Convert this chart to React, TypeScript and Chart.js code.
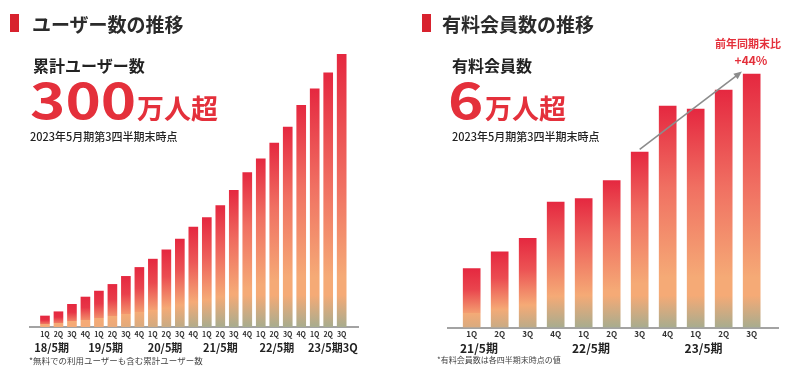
import React, { useEffect, useRef } from 'react';
import { Chart, registerables } from 'chart.js';
Chart.register(...registerables);

// ---- data ----
const userQuarters = ['1Q','2Q','3Q','4Q','1Q','2Q','3Q','4Q','1Q','2Q','3Q','4Q','1Q','2Q','3Q','4Q','1Q','2Q','3Q','4Q','1Q','2Q','3Q'];
const userValues = [12.2,16.9,25.1,33.2,39.8,47.2,56.1,66.0,75.2,85.5,97.3,110.6,121.3,134.6,151.5,171.1,186.2,203.9,221.6,245.6,264.0,281.7,302];
const userYearLabels = ['18/5期','19/5期','20/5期','21/5期','22/5期','23/5期3Q'];
const userYearPositions = [0.5,4.5,8.9,13.0,17.2,21.35];

const memberQuarters = ['1Q','2Q','3Q','4Q','1Q','2Q','3Q','4Q','1Q','2Q','3Q'];
const memberValues = [1.40,1.80,2.12,2.98,3.06,3.49,4.17,5.26,5.19,5.64,6.02];
const memberYearLabels = ['21/5期','22/5期','23/5期'];
const memberYearPositions = [0.26,4.26,8.28];
const arrowFrom = [6, 4.23];
const arrowTo = [9.65, 6.08];

const FONT = '"Noto Sans CJK JP", "Noto Sans", sans-serif';
const RED = '#e4303b';

function mix(a: number[], b: number[], t: number) {
  const c = a.map((v, i) => Math.round(v + (b[i] - v) * t));
  return `rgb(${c[0]},${c[1]},${c[2]})`;
}

function barGradient(ctx: any) {
  const chart = ctx.chart;
  const area = chart.chartArea;
  if (!area || ctx.type !== 'data') return '#e52a41';
  const ys = chart.scales.y;
  const raw = ctx.raw;
  const v = raw && typeof raw === 'object' ? raw.y : raw;
  const top = ys.getPixelForValue(v);
  const base = ys.getPixelForValue(0);
  const h = base - top;
  if (!(h > 1)) return '#e52a41';
  const g = chart.ctx.createLinearGradient(0, top, 0, base);
  const red = [229, 40, 64];
  const salmon = [240, 112, 98];
  const orange = [245, 170, 118];
  const green = [168, 172, 142];
  const cl = (p: number) => Math.min(1, Math.max(0, p));
  const pSal = cl(Math.max(0.35, 1 - 140 / h));
  const pOr = cl(Math.max(0.75, 1 - 50 / h));
  const pOr2 = cl(Math.max(pOr, 1 - 32 / h));
  const greenAmt = Math.min(1, Math.max(0, (h - 30) / 80));
  g.addColorStop(0, mix(red, red, 0));
  g.addColorStop(pSal, mix(red, salmon, Math.min(1, h / 150)));
  g.addColorStop(pOr, mix(red, orange, Math.min(1, 0.6 + h / 200)));
  g.addColorStop(pOr2, mix(salmon, orange, 1));
  g.addColorStop(1, mix(orange, green, greenAmt));
  return g;
}

const arrowPlugin = {
  id: 'trendArrow',
  afterDatasetsDraw(chart: any) {
    if (!chart.options.plugins.trendArrow?.show) return;
    const { ctx, scales } = chart;
    const x0 = scales.x.getPixelForValue(arrowFrom[0]);
    const y0 = scales.y.getPixelForValue(arrowFrom[1]);
    const x1 = scales.x.getPixelForValue(arrowTo[0]);
    const y1 = scales.y.getPixelForValue(arrowTo[1]);
    const ang = Math.atan2(y1 - y0, x1 - x0);
    ctx.save();
    ctx.strokeStyle = '#8c8c8c';
    ctx.fillStyle = '#8c8c8c';
    ctx.lineWidth = 1.6;
    ctx.beginPath();
    ctx.moveTo(x0, y0);
    ctx.lineTo(x1 - 5 * Math.cos(ang), y1 - 5 * Math.sin(ang));
    ctx.stroke();
    const L = 8, W = 3.5;
    ctx.beginPath();
    ctx.moveTo(x1, y1);
    ctx.lineTo(x1 - L * Math.cos(ang) + W * Math.sin(ang), y1 - L * Math.sin(ang) - W * Math.cos(ang));
    ctx.lineTo(x1 - L * Math.cos(ang) - W * Math.sin(ang), y1 - L * Math.sin(ang) + W * Math.cos(ang));
    ctx.closePath();
    ctx.fill();
    ctx.restore();
  },
};

function makeConfig(p: any) {
  return {
    type: 'bar',
    data: {
      datasets: [{
        data: p.values.map((v: number, i: number) => ({ x: i, y: v })),
        backgroundColor: barGradient,
        borderWidth: 0,
        barThickness: p.barW,
      }],
    },
    plugins: [arrowPlugin],
    options: {
      animation: false,
      responsive: false,
      maintainAspectRatio: false,
      layout: { padding: p.padding },
      plugins: { legend: { display: false }, tooltip: { enabled: false }, trendArrow: { show: p.arrow } },
      scales: {
        x: {
          type: 'linear', position: 'bottom', min: p.xMin, max: p.xMax, offset: false, weight: 0,
          grid: { display: false, drawTicks: false },
          border: { display: true, color: '#a3a3a3', width: 2 },
          afterBuildTicks: (s: any) => { s.ticks = p.labels.map((_: string, i: number) => ({ value: i })); },
          ticks: {
            autoSkip: false, maxRotation: 0, padding: p.tickPad, color: '#333',
            font: { family: FONT, size: p.tickSize, weight: 'bold' },
            callback: (_v: any, i: number) => p.labels[i],
          },
        },
        x2: {
          type: 'linear', position: 'bottom', min: p.xMin, max: p.xMax, offset: false, weight: 1,
          grid: { display: false, drawTicks: false },
          border: { display: false },
          afterBuildTicks: (s: any) => { s.ticks = p.yearPos.map((v: number) => ({ value: v })); },
          ticks: {
            autoSkip: false, maxRotation: 0, padding: p.yearPad, color: '#222',
            font: { family: FONT, size: p.yearSize, weight: 'bold' },
            callback: (_v: any, i: number) => p.yearLabels[i],
          },
        },
        y: { display: false, min: 0, max: p.yMax },
      },
    },
  };
}

function BarChart({ cfg, left }: { cfg: any; left: number }) {
  const ref = useRef<HTMLCanvasElement>(null);
  useEffect(() => {
    const chart = new Chart(ref.current as HTMLCanvasElement, makeConfig(cfg) as any);
    return () => chart.destroy();
  }, []);
  return (
    <canvas ref={ref} width={400} height={369}
      style={{ position: 'absolute', left, top: 0, width: 400, height: 369 }} />
  );
}

function T({ x, y, size, color = '#222', weight = 700, children, center = false, style = {} }: any) {
  return (
    <div style={{
      position: 'absolute', left: x, top: y - size / 2, fontSize: size, lineHeight: `${size}px`,
      fontFamily: FONT, fontWeight: weight, color, whiteSpace: 'nowrap',
      transform: center ? 'translateX(-50%)' : undefined, ...style,
    }}>{children}</div>
  );
}

const leftCfg = {
  values: userValues, labels: userQuarters, yearLabels: userYearLabels, yearPos: userYearPositions,
  barW: 9, xMin: -1.11, xMax: 23.21, yMax: 318,
  padding: { left: 30, right: 42, top: 40, bottom: 14.4 },
  tickSize: 7, tickPad: 3, yearSize: 11, yearPad: 0, arrow: false,
};
const rightCfg = {
  values: memberValues, labels: memberQuarters, yearLabels: memberYearLabels, yearPos: memberYearPositions,
  barW: 17, xMin: -0.846, xMax: 10.94, yMax: 6.83,
  padding: { left: 48, right: 22, top: 40, bottom: 13.5 },
  tickSize: 8, tickPad: 2, yearSize: 12, yearPad: 0, arrow: true,
};

export default function App() {
  return (
    <div style={{ position: 'fixed', left: 0, top: 0, width: 800, height: 369, background: '#fff', overflow: 'hidden' }}>
      <BarChart cfg={leftCfg} left={0} />
      <BarChart cfg={rightCfg} left={400} />

      <div style={{ position: 'absolute', left: 10, top: 14, width: 9, height: 18, background: '#d8222e' }} />
      <T x={32} y={23} size={19} color="#2b2b2b">ユーザー数の推移</T>
      <T x={33} y={65} size={16}>累計ユーザー数</T>
      <T x={30} y={97} size={50} color={RED} style={{ transform: 'scaleX(1.2)', transformOrigin: 'left center' }}>300</T>
      <T x={137} y={107} size={27} color={RED}>万人超</T>
      <T x={30} y={136} size={11} weight={500}>2023年5月期第3四半期末時点</T>
      <T x={29} y={360} size={8.5} weight={400} color="#444">*無料での利用ユーザーも含む累計ユーザー数</T>

      <div style={{ position: 'absolute', left: 422, top: 14, width: 9, height: 18, background: '#d8222e' }} />
      <T x={442} y={23} size={19} color="#2b2b2b">有料会員数の推移</T>
      <T x={452} y={65} size={16}>有料会員数</T>
      <T x={448} y={97} size={50} color={RED} style={{ transform: 'scaleX(1.2)', transformOrigin: 'left center' }}>6</T>
      <T x={485} y={107} size={27} color={RED}>万人超</T>
      <T x={452} y={136} size={11} weight={500}>2023年5月期第3四半期末時点</T>
      <T x={748} y={43} size={11} color={RED} center>前年同期末比</T>
      <T x={751} y={60} size={12} color={RED} center>+44%</T>
      <T x={437} y={360} size={8} weight={400} color="#444">*有料会員数は各四半期末時点の値</T>
    </div>
  );
}
